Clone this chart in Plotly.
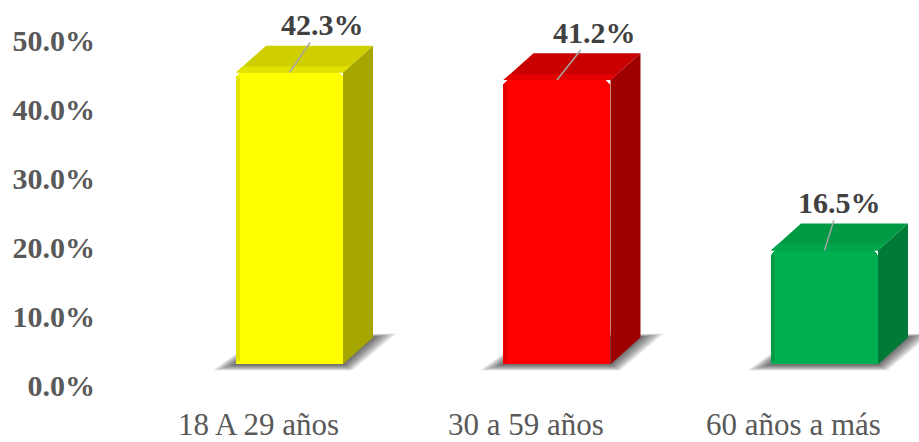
import plotly.graph_objects as go

# ---- data ----
categories = ["18 A 29 años", "30 a 59 años", "60 años a más"]
values = [42.3, 41.2, 16.5]
value_labels = ["42.3%", "41.2%", "16.5%"]
y_ticks = [0, 10, 20, 30, 40, 50]
y_tick_text = ["0.0%", "10.0%", "20.0%", "30.0%", "40.0%", "50.0%"]

# ---- style ----
front_colors = ["#FFFF00", "#FF0000", "#00B050"]
edge_colors = ["#E4E400", "#E00000", "#009C47"]
top_colors = ["#CFCF00", "#C80000", "#009A45"]
bevel_colors = ["#E2E200", "#E20000", "#00A64B"]
side_colors = ["#A6A600", "#9E0000", "#007A37"]
label_dx = [33, 38, 15]

FONT = "Liberation Serif"
W, H = 919, 442
ML, MR, MT, MB = 100, 0, 6, 54
XR = [-0.7084, 2.3533]
YR = [-3.02, 51.94]
kx = (W - ML - MR) / (XR[1] - XR[0])
ky = (H - MT - MB) / (YR[1] - YR[0])
bw = 0.4
dx = 30 / kx
dy = 27 / ky

xs_pos = list(range(len(categories)))

fig = go.Figure()

# shadows (blurred footprint) as layered shapes
shapes = []
n_layers = 10
for i in xs_pos:
    xl, xr = i - bw / 2, i + bw / 2
    for k in range(n_layers):
        ex = (2 + 2.4 * k) / kx
        ey = (1 + 0.6 * k) / ky
        pts = [
            (xl - ex, 0 - ey),
            (xr + ex * 0.4, 0 - ey),
            (xr + dx + ex, dy + ey * 0.6),
            (xl + dx - ex * 0.2, dy + ey * 0.3),
        ]
        path = "M " + " L ".join(f"{px},{py}" for px, py in pts) + " Z"
        shapes.append(dict(type="path", path=path, xref="x", yref="y",
                           fillcolor="rgba(0,0,0,0.075)", line=dict(width=0),
                           layer="below"))

# front faces
fig.add_trace(go.Bar(
    x=xs_pos, y=values, width=bw,
    marker=dict(color=front_colors, line=dict(width=0), cornerradius=7),
    hoverinfo="skip", showlegend=False,
))


def poly(xs, ys, color):
    fig.add_trace(go.Scatter(
        x=xs, y=ys, fill="toself", fillcolor=color, mode="lines",
        line=dict(width=0, color=color), hoverinfo="skip", showlegend=False,
    ))


# side, top faces and bevel strips
for i, v in zip(xs_pos, values):
    xl, xr = i - bw / 2, i + bw / 2
    poly([xr, xr + dx, xr + dx, xr, xr], [v, v + dy, dy, 0, v], side_colors[i])
    poly([xl, xr, xr + dx, xl + dx, xl], [v, v, v + dy, v + dy, v], top_colors[i])
    # rounded front-top edge highlight on the top face
    s = 6 / ky
    sx = s * dx / dy
    poly([xl, xr, xr + sx, xl + sx, xl], [v, v, v + s, v + s, v], bevel_colors[i])
    # darker rounded left edge of the front face
    ew = 4 / kx
    poly([xl, xl + ew, xl + ew, xl, xl], [0.4, 0.4, v - 0.6, v - 0.6, 0.4], edge_colors[i])

annotations = []
for i, v in zip(xs_pos, values):
    annotations.append(dict(
        x=i, y=v, xref="x", yref="y", text=value_labels[i],
        showarrow=True, arrowhead=0, arrowwidth=1.5, arrowcolor="#A6A6A6",
        ax=label_dx[i], ay=-48, standoff=0,
        font=dict(family=FONT, size=30, color="#404040", weight="bold"),
    ))

fig.update_layout(
    width=W, height=H,
    margin=dict(l=ML, r=MR, t=MT, b=MB),
    paper_bgcolor="white", plot_bgcolor="white",
    shapes=shapes, annotations=annotations,
    xaxis=dict(range=XR, tickvals=xs_pos, ticktext=categories,
               showgrid=False, zeroline=False, showline=False, ticks="",
               tickfont=dict(family=FONT, size=31, color="#595959"),
               ticklabelshift=-31, ticklabelstandoff=18, fixedrange=True),
    yaxis=dict(range=YR, tickvals=y_ticks, ticktext=y_tick_text,
               showgrid=False, zeroline=False, showline=False, ticks="",
               tickfont=dict(family=FONT, size=30, color="#595959", weight="bold"),
               ticklabelshift=21, ticklabelstandoff=4, ticklabeloverflow="allow",
               fixedrange=True),
    bargap=0,
)

fig.write_html("out.html", config={"displayModeBar": False})
